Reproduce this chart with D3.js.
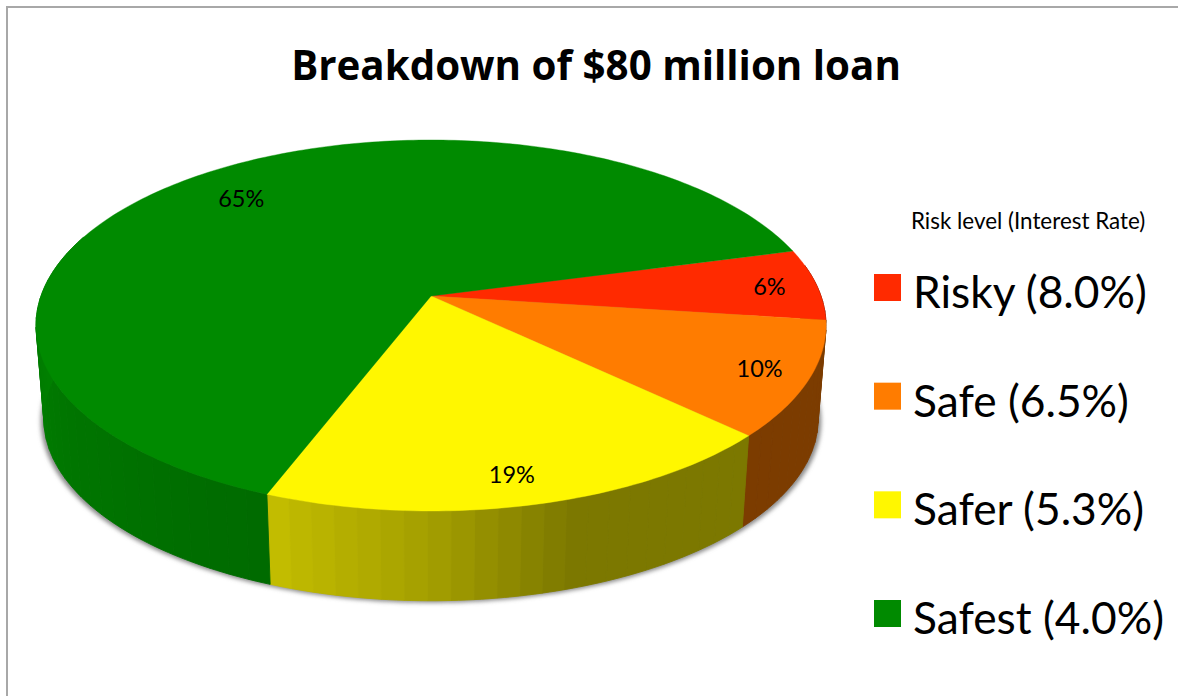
<!DOCTYPE html>
<html>
<head>
<meta charset="utf-8">
<script src="https://cdn.jsdelivr.net/npm/d3@7"></script>
<style>
  html, body { margin: 0; padding: 0; background: #fff; }
  svg { display: block; }
  text { font-family: Lato, "Open Sans", sans-serif; fill: #000; }
  text.title { font-family: "Open Sans", Lato, sans-serif; }
</style>
</head>
<body>
<svg id="chart" width="1178" height="696"></svg>
<script>
// Loan tranches, in millions of dollars
const tranches = ["Risky (8.0%)", "Safe (6.5%)", "Safer (5.3%)", "Safest (4.0%)"];
const amounts = [5, 8, 15, 52];
const colors = ["#ff2a00", "#ff7c00", "#fff700", "#008a00"];
const labelRadii = [0.875, 0.875, 0.87, 0.8];
const labelTurnDegrees = [0, 0, 1, 0];

const titleText = "Breakdown of $80 million loan";
const legendTitle = "Risk level (Interest Rate)";

const svg = d3.select("#chart");
const width = 1178, height = 696;

// Perspective applied to the unit disc that carries the pie
const centerX = 431, centerY = 296, radius = 390, ampY = 180.8, tilt = 0.159;
// The lower rim is the upper rim pulled slightly toward a distant vanishing point
const rimScale = 0.98, rimShift = 100;

const toRad = Math.PI / 180;
const topPoint = (theta, r = 1) => {
  const u = r * Math.cos(theta), v = r * Math.sin(theta);
  const w = 1 - tilt * v;
  return [centerX + radius * u / w, centerY + ampY * v / w];
};
const rimPoint = theta => {
  const [x, y] = topPoint(theta);
  return [centerX + (x - centerX) * rimScale, rimScale * y + rimShift];
};

// d3.pie measures from 12 o'clock; theta here measures from 3 o'clock, clockwise
const pie = d3.pie().sort(null).startAngle(75 * toRad).endAngle(435 * toRad);
const total = d3.sum(amounts);
const percent = d3.format(".0%");
const slices = pie(amounts).map((d, i) => ({
  index: i,
  color: colors[i],
  label: percent(d.value / total),
  start: d.startAngle - Math.PI / 2,
  end: d.endAngle - Math.PI / 2
}));

const arcAngles = (a, b, step) => {
  const n = Math.max(1, Math.ceil((b - a) / step));
  return d3.range(n + 1).map(i => a + (b - a) * i / n);
};
const line = d3.line();

// Wall brightness by facing direction
const shade = d3.scaleLinear()
  .domain([43, 72, 90, 111, 185].map(d => d * toRad))
  .range([0.485, 0.485, 0.64, 0.77, 0.93])
  .clamp(true);

// Soft shadow
const defs = svg.append("defs");
defs.append("filter").attr("id", "soft")
  .attr("x", "-5%").attr("y", "-5%").attr("width", "110%").attr("height", "110%")
  .append("feGaussianBlur").attr("stdDeviation", 2.2);

svg.append("rect").attr("width", width).attr("height", height).attr("fill", "#fff");

// Chart frame: only its top and left edges fall inside the page
svg.append("path")
  .attr("d", line([[7, height], [7, 7], [width, 7]]))
  .attr("fill", "none").attr("stroke", "#a8a8a8").attr("stroke-width", 2);

const rimAll = arcAngles(0, 2 * Math.PI, 1 * toRad).map(t => {
  const [x, y] = rimPoint(t);
  return [centerX + (x - centerX) * 1.008, y + 2];
});
svg.append("path").attr("d", line(rimAll) + "Z")
  .attr("fill", "#8a8a8a").attr("filter", "url(#soft)");

// Side wall, drawn as flat facets along each slice
const wall = svg.append("g");
const facetStep = 3 * toRad;
slices.forEach(s => {
  const from = s.start, to = Math.min(s.end, 200 * toRad);
  if (to < 0) return;
  const lo = Math.max(from, -10 * toRad);
  if (lo >= to) return;
  const edges = arcAngles(lo, to, facetStep);
  const base = d3.rgb(s.color);
  d3.pairs(edges).forEach(([a, b]) => {
    const k = shade((a + b) / 2);
    const fill = d3.rgb(base.r * k, base.g * k, base.b * k).formatHex();
    const sweep = arcAngles(a, b, 1 * toRad);
    const pts = sweep.map(t => topPoint(t)).concat(sweep.slice().reverse().map(rimPoint));
    wall.append("path").attr("d", line(pts) + "Z")
      .attr("fill", fill).attr("stroke", fill).attr("stroke-width", 0.9);
  });
});

// Top face
const face = svg.append("g");
slices.forEach(s => {
  const pts = [[centerX, centerY]].concat(arcAngles(s.start, s.end, 1 * toRad).map(t => topPoint(t)));
  face.append("path").attr("d", line(pts) + "Z")
    .attr("fill", s.color).attr("stroke", s.color).attr("stroke-width", 0.4);
});

// Percentage labels
const labelPoint = d => topPoint(
  (d.start + d.end) / 2 + labelTurnDegrees[d.index] * toRad,
  labelRadii[d.index]
);
svg.append("g").selectAll("text").data(slices).join("text")
  .attr("x", d => labelPoint(d)[0] + 1)
  .attr("y", d => labelPoint(d)[1] + 9)
  .attr("text-anchor", "middle")
  .attr("font-size", 23.5)
  .text(d => d.label);

// Title
svg.append("text").attr("class", "title")
  .attr("x", 596).attr("y", 80)
  .attr("text-anchor", "middle")
  .attr("font-size", 40.3).attr("font-weight", 700)
  .text(titleText);

// Legend
svg.append("text")
  .attr("x", 911).attr("y", 229)
  .attr("font-size", 22.4)
  .text(legendTitle);

const legendY = d3.scalePoint().domain(tranches).range([274, 600]);
const legend = svg.append("g").selectAll("g").data(tranches).join("g")
  .attr("transform", d => `translate(874,${legendY(d)})`);
legend.append("rect").attr("width", 27).attr("height", 27)
  .attr("fill", (d, i) => colors[i]);
legend.append("text").attr("x", 39).attr("y", 34)
  .attr("font-size", 44.3)
  .text(d => d);
</script>
</body>
</html>
